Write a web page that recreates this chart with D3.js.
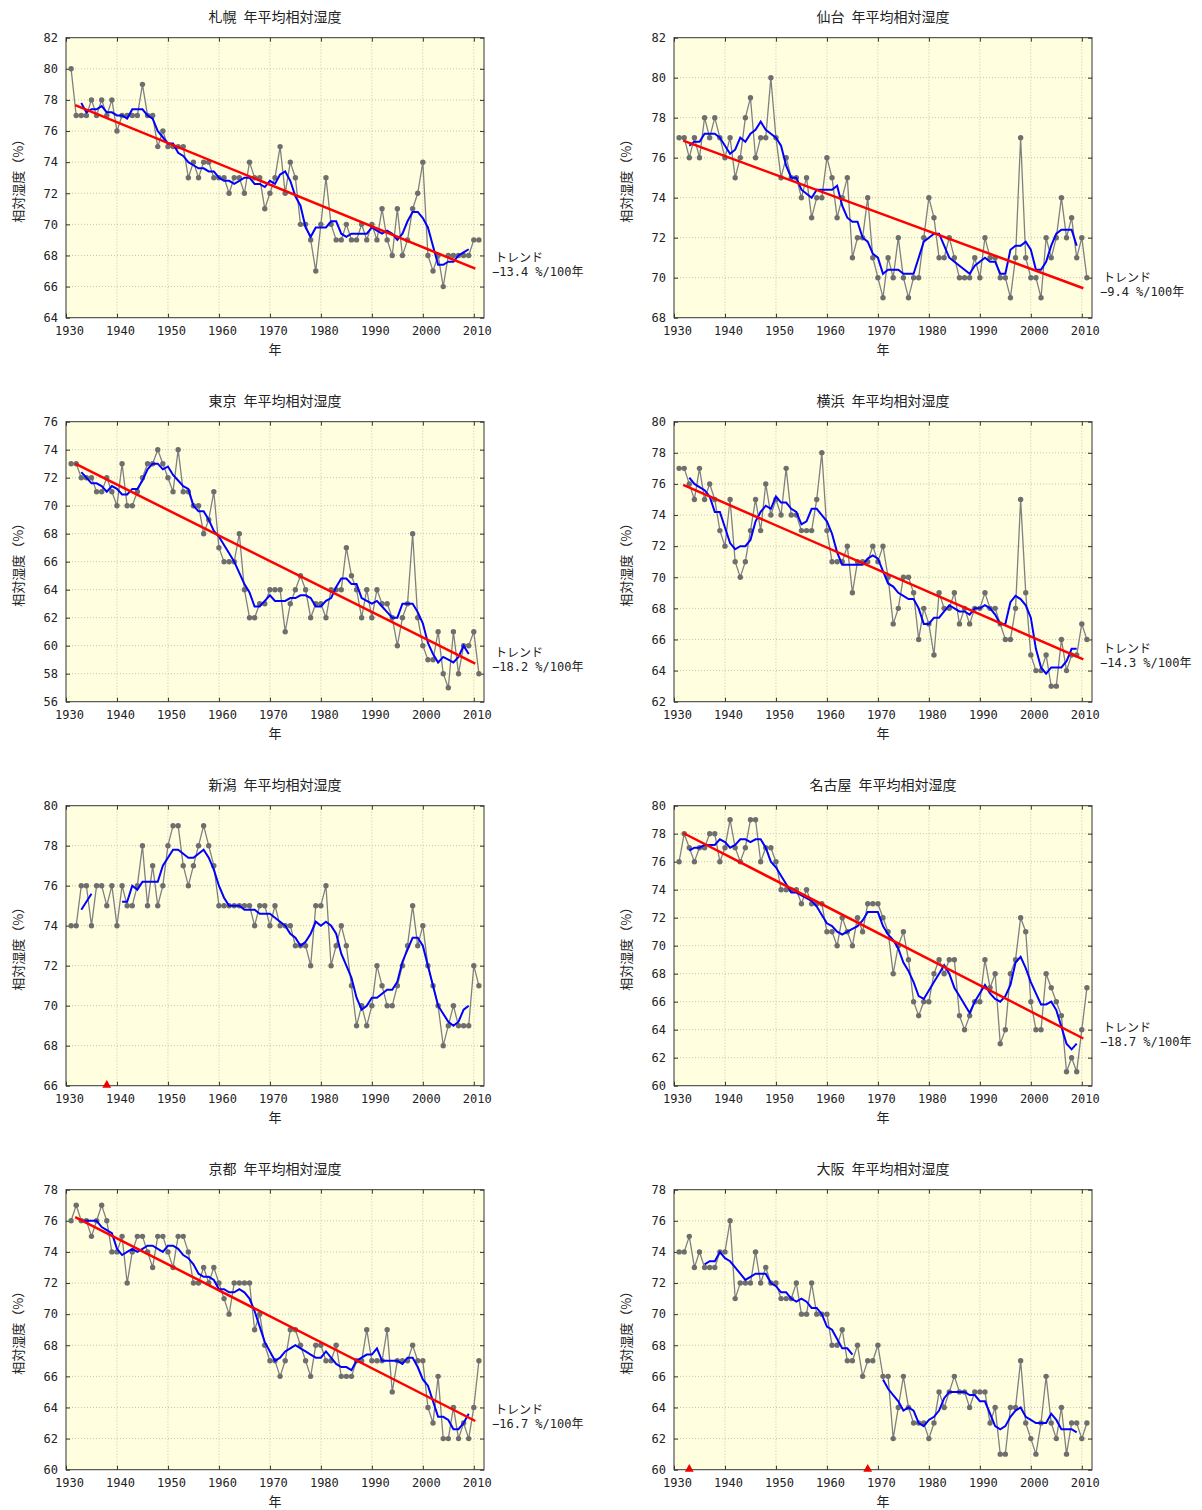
<!DOCTYPE html>
<html lang="ja">
  <head>
    <meta charset="utf-8">
    <title>年平均相対湿度</title>
    <script src="https://cdn.jsdelivr.net/npm/d3@7"></script>
    <style>
      body { margin: 0; background: #fff; }
      text { font-family: "DejaVu Sans Mono", "Noto Sans CJK JP", monospace; fill: #222; }
      .cjk { font-family: "Noto Sans CJK JP", sans-serif; }
    </style>
  </head>
  <body>
    <div id="chart"></div>
    <script>
      // annual mean relative humidity (%), 1931-2011
      let years = d3.range(1931, 2012)

      let sapporo = [80,77,77,77,78,77,78,77,78,76, 77,77,77,77,79,77,77,75,76,75,
                     75,75,75,73,74,73,74,74,73,73, 73,72,73,73,72,74,73,73,71,72,
                     73,75,72,74,73,70,70,69,67,70, 73,70,69,69,70,69,69,70,69,70,
                     69,71,69,68,71,68,69,71,72,74, 68,67,68,66,68,68,68,68,68,69, 69]
      let sendai  = [77,77,76,77,76,78,77,78,77,76, 77,75,76,78,79,76,77,77,80,77,
                     75,76,75,75,74,75,73,74,74,76, 75,73,74,75,71,72,72,74,71,70,
                     69,71,70,72,70,69,70,70,72,74, 73,71,71,72,71,70,70,70,71,70,
                     72,71,71,70,70,69,71,77,71,70, 70,69,72,71,72,74,72,73,71,72, 70]
      let tokyo   = [73,73,72,72,72,71,71,72,71,70, 73,70,70,71,72,73,73,74,73,72,
                     71,74,71,71,70,70,68,69,71,67, 66,66,66,68,64,62,62,63,63,64,
                     64,64,61,63,64,65,64,62,63,63, 62,64,64,64,67,65,64,62,64,62,
                     64,63,63,62,60,62,63,68,62,60, 59,59,61,58,57,61,58,60,60,61, 58]
      let yokohama = [77,77,76,75,77,75,76,75,73,72, 75,71,70,71,73,75,73,76,74,75,
                     74,77,74,74,73,73,73,75,78,73, 71,71,71,72,69,71,71,71,72,71,
                     72,70,67,68,70,70,69,66,68,67, 65,69,68,68,69,67,68,67,68,68,
                     69,68,68,67,66,66,68,75,69,65, 64,64,65,63,63,66,64,65,65,67, 66]
      let niigata = [74,74,76,76,74,76,76,75,76,74, 76,75,75,76,78,75,77,75,76,78,
                     79,79,77,76,77,78,79,78,77,75, 75,75,75,75,75,75,74,75,75,74,
                     75,74,74,74,73,73,73,72,75,75, 76,72,73,74,73,71,69,70,69,70,
                     72,71,70,70,71,72,73,75,73,74, 72,71,70,68,69,70,69,69,69,72, 71]
      let nagoya  = [76,78,77,76,77,77,78,78,76,77, 79,77,76,77,79,79,76,77,77,76,
                     74,74,74,74,73,74,73,73,73,71, 71,70,72,71,70,72,71,73,73,73,
                     72,71,68,70,71,69,66,65,66,66, 68,69,68,69,69,65,64,65,66,66,
                     69,67,68,63,64,68,69,72,71,66, 64,64,68,67,66,65,61,62,61,64, 67]
      let kyoto   = [76,77,76,76,75,76,77,76,74,74, 75,72,74,75,75,74,73,75,75,74,
                     73,75,75,74,72,72,73,72,73,72, 71,70,72,72,72,72,69,70,68,67,
                     67,66,67,69,69,68,67,66,68,68, 67,67,68,66,66,66,67,67,69,67,
                     67,67,69,65,67,67,67,68,67,67, 64,63,66,62,62,64,62,63,62,64, 67]
      let osaka   = [74,74,75,73,74,73,73,73,74,74, 76,71,72,72,72,74,72,73,72,72,
                     71,71,71,72,70,70,72,70,70,70, 68,68,69,67,67,68,66,67,67,68,
                     66,66,62,64,66,64,63,63,63,62, 63,65,64,65,66,65,65,64,65,65,
                     65,63,64,61,61,64,64,67,63,62, 61,63,66,63,62,64,61,63,63,62, 63]

      let names = ['札幌', '仙台', '東京', '横浜', '新潟', '名古屋', '京都', '大阪']
      let series = [sapporo, sendai, tokyo, yokohama, niigata, nagoya, kyoto, osaka]
      let yRanges = [[64,82], [68,82], [56,76], [62,80], [66,80], [60,80], [60,78], [60,78]]
      // trend: value at start of line, slope in %/100 years (null = no trend shown)
      let trendStart = [77.67, 76.85, 73.0, 75.94, null, 78.05, 76.24, null]
      let trendSlope = [-13.4, -9.4, -18.2, -14.3, null, -18.7, -16.7, null]
      let trendYears = [1931.8, 2010.3]
      // station relocation years (red triangles, moving average broken there)
      let relocations = [[], [], [], [], [1938], [], [], [1933, 1968]]
      let xTicks = d3.range(1930, 2011, 10)

      let W = 1202, H = 1510
      let plotW = 418, plotH = 280
      let colX = [66, 674], rowY = [37.7, 421.7, 805.7, 1189.7]

      let svg = d3.select('#chart').append('svg')
        .attr('width', W)
        .attr('height', H)

      // centered 5-year mean, only where the window stays on one side of a relocation
      function movingAverage(vals, moves) {
        return vals.map((v, i) => {
          if (i < 2 || i > vals.length - 3) return null
          let y0 = years[i - 2], y1 = years[i + 2]
          if (moves.some(m => m >= y0 && m <= y1)) return null
          return d3.mean(vals.slice(i - 2, i + 3))
        })
      }

      names.forEach((name, k) => {
        let vals = series[k]
        let left = colX[k % 2], top = rowY[Math.floor(k / 2)]
        let g = svg.append('g').attr('transform', 'translate(' + left + ',' + top + ')')

        let scale_x = d3.scaleLinear().domain([1930, 2012]).range([0, plotW])
        let scale_y = d3.scaleLinear().domain(yRanges[k]).range([plotH, 0])
        let yTicks = d3.range(yRanges[k][0], yRanges[k][1] + 0.1, 2)

        g.append('rect')
          .attr('width', plotW).attr('height', plotH)
          .attr('fill', '#ffffe0')

        // dotted grid
        g.selectAll('.gx').data(xTicks.slice(1)).enter().append('line')
          .attr('x1', d => scale_x(d)).attr('x2', d => scale_x(d))
          .attr('y1', 0).attr('y2', plotH)
          .attr('stroke', '#c4c4b4').attr('stroke-dasharray', '1,2')
        g.selectAll('.gy').data(yTicks.slice(1, -1)).enter().append('line')
          .attr('x1', 0).attr('x2', plotW)
          .attr('y1', d => scale_y(d)).attr('y2', d => scale_y(d))
          .attr('stroke', '#c4c4b4').attr('stroke-dasharray', '1,2')

        // axes, ticks pointing inward on all sides
        g.append('g').attr('transform', 'translate(0,' + plotH + ')')
          .call(d3.axisBottom(scale_x).tickValues(xTicks).tickFormat(d3.format('d'))
            .tickSizeInner(-4).tickSizeOuter(0).tickPadding(9))
          .selectAll('text').attr('dx', 3)
        g.append('g')
          .call(d3.axisLeft(scale_y).tickValues(yTicks).tickSizeInner(-4).tickSizeOuter(0).tickPadding(8))
        g.append('g')
          .call(d3.axisTop(scale_x).tickValues(xTicks).tickSizeInner(-4).tickSizeOuter(0).tickFormat(''))
        g.append('g').attr('transform', 'translate(' + plotW + ',0)')
          .call(d3.axisRight(scale_y).tickValues(yTicks).tickSizeInner(-4).tickSizeOuter(0).tickFormat(''))
        g.selectAll('.domain').remove()
        g.selectAll('.tick line').attr('stroke', '#333')
        g.selectAll('.tick text').attr('font-size', '12px').attr('fill', '#222')
          .attr('font-family', '"DejaVu Sans Mono", monospace')

        g.append('rect')
          .attr('width', plotW).attr('height', plotH)
          .attr('fill', 'none').attr('stroke', '#333').attr('stroke-width', 1)

        // annual values
        let pts = years.map((yr, i) => ({yr: yr, v: vals[i]}))
        g.append('path')
          .datum(pts)
          .attr('d', d3.line().x(d => scale_x(d.yr)).y(d => scale_y(d.v)))
          .attr('fill', 'none').attr('stroke', '#808080').attr('stroke-width', 1.3)
        g.selectAll('circle').data(pts).enter().append('circle')
          .attr('cx', d => scale_x(d.yr)).attr('cy', d => scale_y(d.v))
          .attr('r', 2.7).attr('fill', '#6e6e6e')

        // 5-year moving average
        let ma = movingAverage(vals, relocations[k]).map((m, i) => ({yr: years[i], v: m}))
        g.append('path')
          .datum(ma)
          .attr('d', d3.line().defined(d => d.v != null).x(d => scale_x(d.yr)).y(d => scale_y(d.v)))
          .attr('fill', 'none').attr('stroke', '#0000ff').attr('stroke-width', 2)

        // long term trend
        if (trendSlope[k] != null) {
          let t0 = trendStart[k]
          let t1 = t0 + trendSlope[k] * (trendYears[1] - trendYears[0]) / 100
          g.append('line')
            .attr('x1', scale_x(trendYears[0])).attr('y1', scale_y(t0))
            .attr('x2', scale_x(trendYears[1])).attr('y2', scale_y(t1))
            .attr('stroke', '#ff0000').attr('stroke-width', 2.5)
          let ty = scale_y(t1)
          g.append('text')
            .attr('x', plotW + 11).attr('y', ty - 6.5)
            .attr('font-size', '12px')
            .text('トレンド')
          g.append('text')
            .attr('x', plotW + 8).attr('y', ty + 7.5)
            .attr('font-size', '12px')
            .text(d3.format('.1f')(trendSlope[k]) + ' %/100年')
        }

        // relocation markers
        g.selectAll('.move').data(relocations[k]).enter().append('path')
          .attr('d', d3.symbol(d3.symbolTriangle).size(34))
          .attr('transform', d => 'translate(' + scale_x(d) + ',' + (plotH - 0.5) + ')')
          .attr('fill', '#ee0000')

        // titles and axis labels
        g.append('text')
          .attr('class', 'cjk')
          .attr('x', plotW / 2).attr('y', -16)
          .attr('text-anchor', 'middle')
          .attr('font-size', '14px')
          .text(name + '\u2002年平均相対湿度')
        g.append('text')
          .attr('class', 'cjk')
          .attr('x', plotW / 2).attr('y', plotH + 36)
          .attr('text-anchor', 'middle')
          .attr('font-size', '13px')
          .text('年')
        g.append('text')
          .attr('class', 'cjk')
          .attr('transform', 'translate(-43,' + (plotH / 2) + ') rotate(-90)')
          .attr('text-anchor', 'middle')
          .attr('font-size', '13px')
          .text('相対湿度（%）')
      })
    </script>
  </body>
</html>
